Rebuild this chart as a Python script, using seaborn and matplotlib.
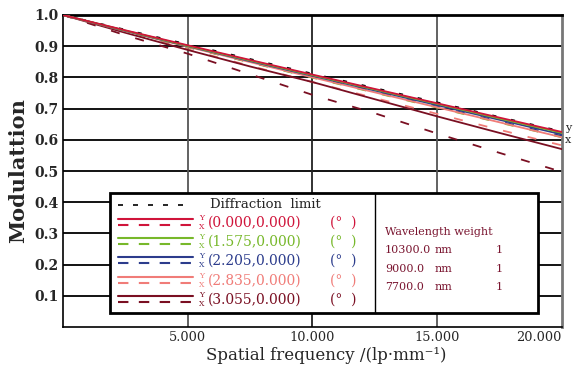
import matplotlib
matplotlib.use("Agg")
import matplotlib.pyplot as plt
import matplotlib.transforms as mtransforms
from matplotlib.lines import Line2D
from matplotlib.patches import Rectangle
import seaborn as sns

# MTF curves
freq = [0, 2.5, 5, 7.5, 10, 12.5, 15, 17.5, 20]
diffraction = [1.0, 0.953, 0.906, 0.859, 0.812, 0.766, 0.720, 0.673, 0.627]

fields = ["(0.000,0.000)", "(1.575,0.000)", "(2.205,0.000)", "(2.835,0.000)", "(3.055,0.000)"]
colors = ["#d0143a", "#77b82a", "#2c3c8c", "#f07c78", "#7a0f22"]

mtf_y = [
    [1.0, 0.951, 0.903, 0.856, 0.809, 0.763, 0.717, 0.671, 0.625],
    [1.0, 0.950, 0.901, 0.854, 0.807, 0.761, 0.715, 0.668, 0.622],
    [1.0, 0.949, 0.900, 0.852, 0.805, 0.758, 0.711, 0.664, 0.617],
    [1.0, 0.948, 0.898, 0.849, 0.800, 0.752, 0.704, 0.656, 0.608],
    [1.0, 0.943, 0.888, 0.835, 0.785, 0.730, 0.675, 0.622, 0.570],
]
mtf_x = [
    [1.0, 0.949, 0.900, 0.852, 0.805, 0.758, 0.712, 0.666, 0.620],
    [1.0, 0.948, 0.897, 0.848, 0.799, 0.751, 0.703, 0.655, 0.608],
    [1.0, 0.948, 0.898, 0.849, 0.801, 0.753, 0.706, 0.659, 0.612],
    [1.0, 0.945, 0.890, 0.837, 0.785, 0.734, 0.683, 0.632, 0.582],
    [1.0, 0.935, 0.876, 0.810, 0.744, 0.685, 0.620, 0.558, 0.497],
]

wavelengths = ["10300.0", "9000.0", "7700.0"]
weights = ["1", "1", "1"]

sns.set_style("white")
plt.rcParams["font.family"] = ["DejaVu Serif"]

W, H = 582, 374
fig = plt.figure(figsize=(W / 100, H / 100), dpi=100)


def fx(px):
    return px / W


def fy(py):
    return 1 - py / H


ax = fig.add_axes([fx(63), fy(327), (562 - 63) / W, (327 - 15) / H])

# grid
for v in [0.1, 0.2, 0.3, 0.4, 0.5, 0.6, 0.7, 0.8, 0.9]:
    ax.axhline(v, color="black", lw=1.3, zorder=1)
for v, c in [(5, "#555555"), (10, "#222222"), (15, "#555555")]:
    ax.axvline(v, color=c, lw=1.3, zorder=1)

dash_x = (0, (5, 9))
sns.lineplot(x=freq, y=diffraction, ax=ax, color="black", lw=1.2,
             linestyle=(0, (2.5, 9)), zorder=3)
for i in reversed(range(len(fields))):
    sns.lineplot(x=freq, y=mtf_x[i], ax=ax, color=colors[i], lw=1.3,
                 linestyle=dash_x, zorder=3)
    sns.lineplot(x=freq, y=mtf_y[i], ax=ax, color=colors[i], lw=1.3, zorder=4)

ax.set_xlim(0, 20)
ax.set_ylim(0, 1.0)
ax.set_xticks([5, 10, 15, 20])
ax.set_xticklabels(["5.000", "10.000", "15.000", "20.000"], fontsize=9.3)
last = ax.get_xticklabels()[-1]
last.set_horizontalalignment("right")
last.set_transform(last.get_transform() + mtransforms.ScaledTranslation(0.12, 0, fig.dpi_scale_trans))
ax.set_yticks([0.1, 0.2, 0.3, 0.4, 0.5, 0.6, 0.7, 0.8, 0.9, 1.0])
ax.set_yticklabels(["0.1", "0.2", "0.3", "0.4", "0.5", "0.6", "0.7", "0.8", "0.9", "1.0"],
                   fontsize=10, fontweight="bold")
ax.tick_params(length=0, pad=3)
ax.set_xlabel("Spatial frequency /(lp·mm⁻¹)", fontsize=12)
ax.set_ylabel("Modulattion", fontsize=15, fontweight="bold")
ax.xaxis.set_label_coords(0.527, -0.064)
ax.yaxis.set_label_coords(-0.07, 0.5)

for s in ["left", "bottom"]:
    ax.spines[s].set_color("black")
    ax.spines[s].set_linewidth(1.2)
ax.spines["top"].set_color("black")
ax.spines["top"].set_linewidth(2)
ax.spines["right"].set_color("#777777")
ax.spines["right"].set_linewidth(2)

fig.text(fx(565), fy(128), "y", fontsize=8, va="center", ha="left")
fig.text(fx(565), fy(140), "x", fontsize=8, va="center", ha="left")

# legend box
fig.add_artist(Rectangle((fx(110), fy(313)), (538 - 110) / W, (313 - 193) / H,
                         transform=fig.transFigure, facecolor="white",
                         edgecolor="black", lw=2, zorder=5))
fig.add_artist(Line2D([fx(375), fx(375)], [fy(193), fy(313)],
                      transform=fig.transFigure, color="black", lw=1, zorder=6))

fig.add_artist(Line2D([fx(118), fx(185)], [fy(205), fy(205)], transform=fig.transFigure,
                      color="black", lw=1.2, linestyle=(0, (3, 6)), zorder=6))
fig.text(fx(210), fy(205), "Diffraction  limit", fontsize=9.5, va="center", zorder=6)

row_y = [223, 242, 261, 281, 300]
for i, f in enumerate(fields):
    yy = row_y[i]
    fig.add_artist(Line2D([fx(118), fx(193)], [fy(yy - 4), fy(yy - 4)], transform=fig.transFigure,
                          color=colors[i], lw=1.5, zorder=6))
    fig.add_artist(Line2D([fx(118), fx(193)], [fy(yy + 2), fy(yy + 2)], transform=fig.transFigure,
                          color=colors[i], lw=1.5, linestyle=(0, (5, 5)), zorder=6))
    fig.text(fx(202), fy(yy - 5), "Y", fontsize=5.5, color=colors[i], ha="center", va="center", zorder=6)
    fig.text(fx(202), fy(yy + 4), "X", fontsize=5.5, color=colors[i], ha="center", va="center", zorder=6)
    fig.text(fx(208), fy(yy), f, fontsize=10, color=colors[i], va="center", zorder=6)
    fig.text(fx(330), fy(yy), "(°  )", fontsize=10, color=colors[i], va="center", zorder=6)

wl_color = "#7a1530"
fig.text(fx(385), fy(232), "Wavelength weight", fontsize=8, color=wl_color, va="center", zorder=6)
for j, (w, wt) in enumerate(zip(wavelengths, weights)):
    yy = 250 + j * 18.5
    fig.text(fx(385), fy(yy), w, fontsize=8, color=wl_color, va="center", zorder=6)
    fig.text(fx(435), fy(yy), "nm", fontsize=8, color=wl_color, va="center", zorder=6)
    fig.text(fx(496), fy(yy), wt, fontsize=8, color=wl_color, va="center", zorder=6)

fig.savefig("out.png", dpi=100)
